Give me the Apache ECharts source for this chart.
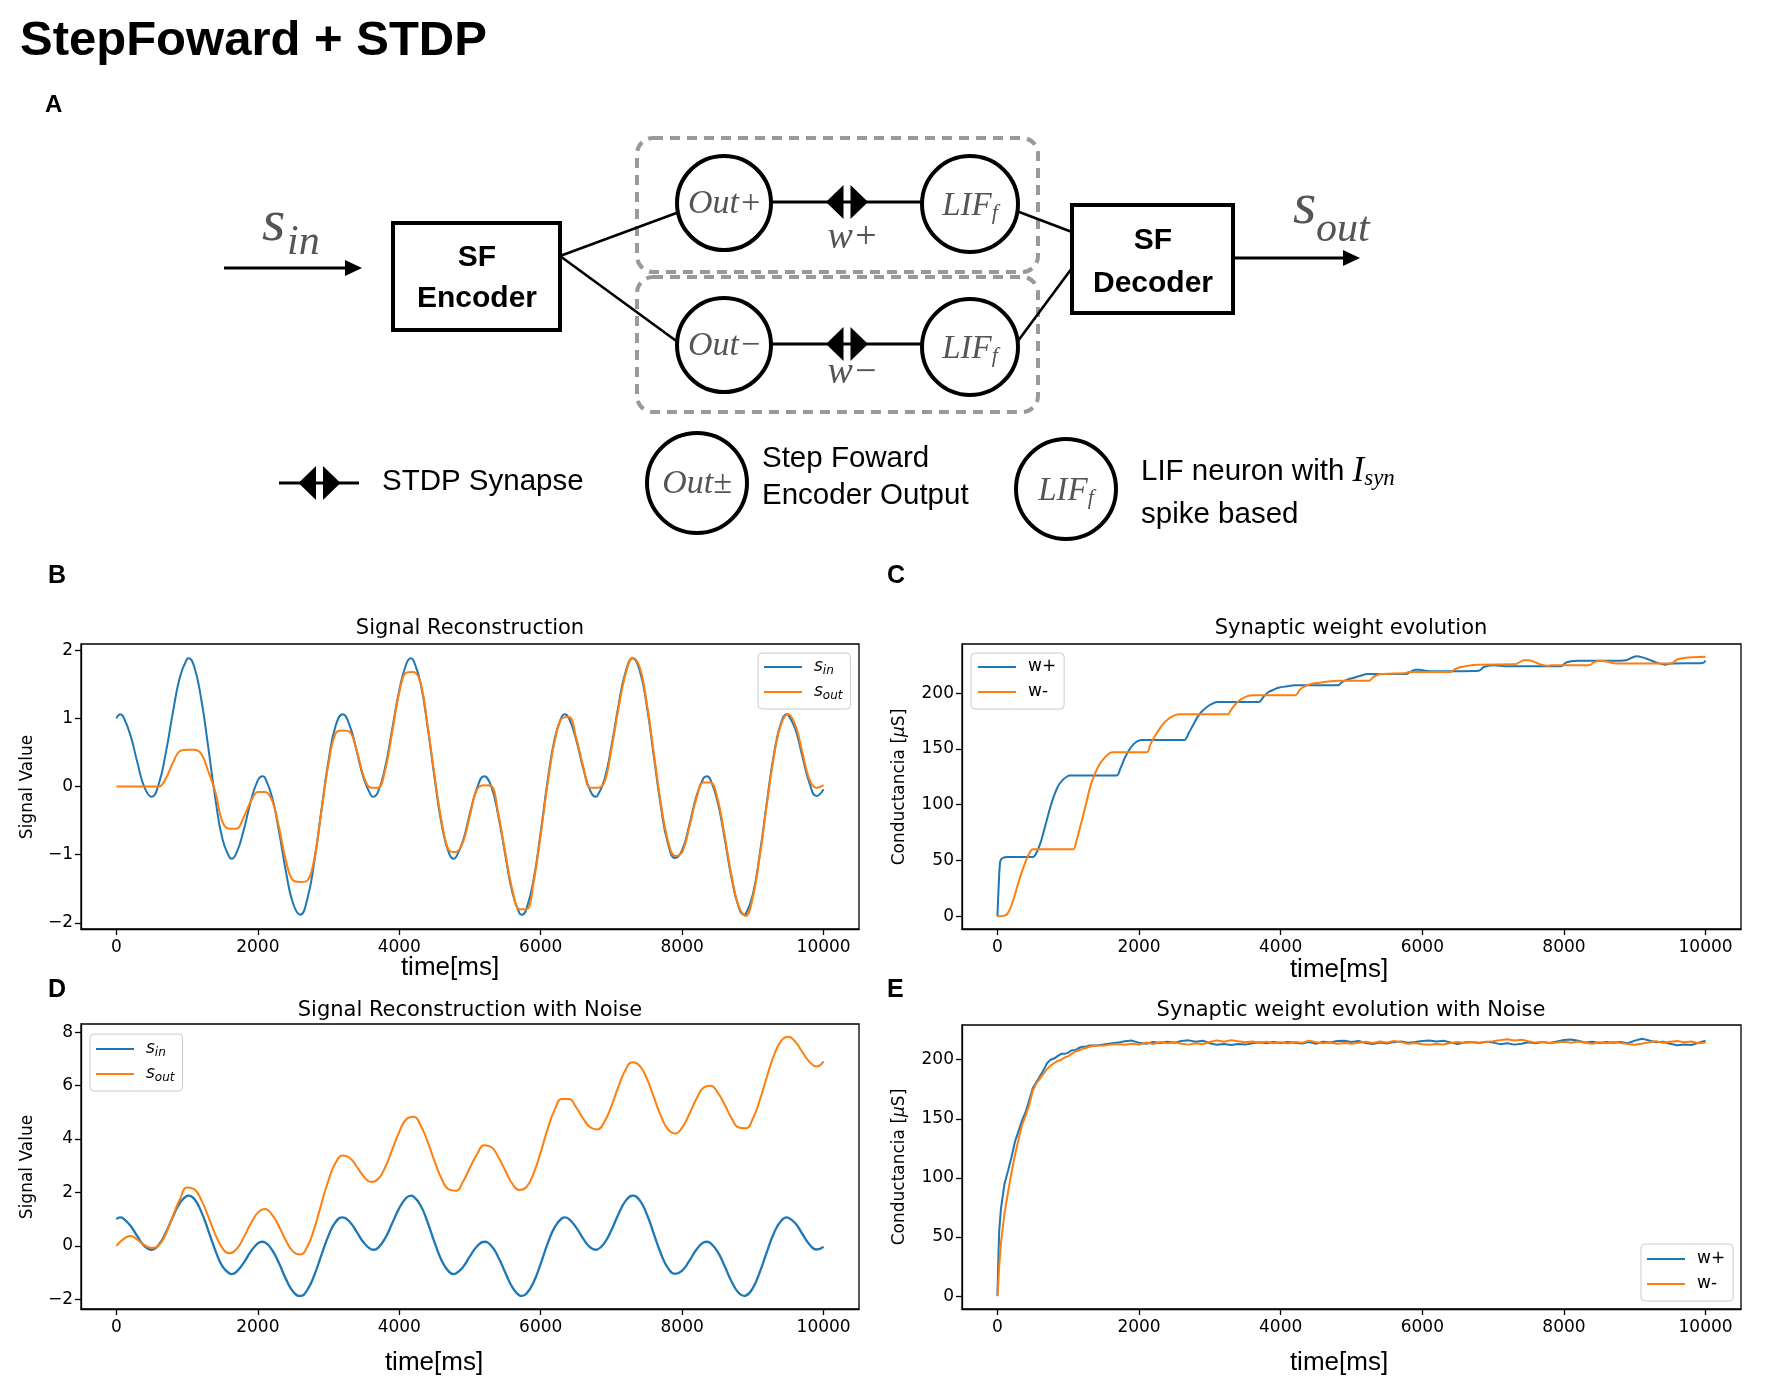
<!DOCTYPE html>
<html><head><meta charset="utf-8">
<script src="https://cdn.jsdelivr.net/npm/echarts@6/dist/echarts.min.js"></script>
<style>html,body{margin:0;padding:0;background:#fff}#c{width:1772px;height:1380px}</style>
</head><body><div id="c"></div>
<script>
// ---------- DATA ----------
const timeGrid = []; for (let t = 0; t <= 10000; t += 100) timeGrid.push(t); // ms
const xTicks = [0, 2000, 4000, 6000, 8000, 10000];
const yTicksB = [-2, -1, 0, 1, 2];
const yTicksC = [0, 50, 100, 150, 200];
const yTicksD = [-2, 0, 2, 4, 6, 8];
const yTicksE = [0, 50, 100, 150, 200];

// Panel B / D : input signal (same in both panels), sampled every 100 ms
const sIn = [1.00,1.02,0.75,0.34,-0.02,-0.15,0.04,0.50,1.09,1.61,
  1.87,1.76,1.28,0.57,-0.18,-0.77,-1.04,-0.97,-0.64,-0.22,
  0.09,0.13,-0.15,-0.66,-1.26,-1.72,-1.88,-1.65,-1.09,-0.34,
  0.38,0.89,1.06,0.89,0.51,0.11,-0.13,-0.08,0.28,0.84,
  1.41,1.80,1.85,1.52,0.88,0.12,-0.56,-0.97,-1.04,-0.80,
  -0.39,-0.02,0.15,0.00,-0.43,-1.01,-1.56,-1.86,-1.79,-1.36,
  -0.67,0.10,0.71,1.03,1.00,0.69,0.27,-0.06,-0.14,0.10,
  0.59,1.19,1.68,1.88,1.70,1.18,0.44,-0.30,-0.84,-1.05,
  -0.93,-0.57,-0.15,0.12,0.10,-0.22,-0.76,-1.35,-1.77,-1.87,
  -1.58,-0.97,-0.21,0.49,0.94,1.05,0.84,0.44,0.05,-0.14,
  -0.04];
// extra samples at the peaks / troughs of the input signal [ms, value]
const sInExtrema = [[56,1.06],[1022,1.88],[1627,-1.06],[2066,0.15],[3635,-0.15],[4164,1.88],[4769,-1.06],
  [5735,-1.88],[6339,1.06],[6776,-0.15],[8349,0.15],[8876,-1.88],[9481,1.06]];
// Panel B : reconstructed signal
const sOutB = [0,0,0,0,0,0,0,0.12,0.35,0.52,
  0.54,0.54,0.48,0.22,-0.08,-0.52,-0.62,-0.62,-0.45,-0.22,
  -0.08,-0.08,-0.2,-0.6,-1.1,-1.38,-1.4,-1.38,-1.05,-0.36,
  0.34,0.78,0.82,0.8,0.52,0.14,-0.02,-0.02,0.24,0.8,
  1.38,1.67,1.68,1.52,0.9,0.15,-0.52,-0.93,-0.96,-0.82,
  -0.42,-0.04,0.02,0.01,-0.4,-0.98,-1.52,-1.8,-1.8,-1.4,
  -0.7,0.06,0.68,1.0,1.02,0.72,0.3,-0.02,-0.02,0.06,
  0.55,1.15,1.65,1.89,1.75,1.22,0.48,-0.26,-0.8,-1.02,
  -0.96,-0.6,-0.18,0.06,0.06,-0.18,-0.72,-1.32,-1.76,-1.9,
  -1.62,-1.0,-0.24,0.46,0.92,1.06,0.9,0.5,0.1,-0.02,
  0.02];
// Panel D : reconstructed signal with noise
const sOutD = [0.00,0.25,0.37,0.22,0.02,-0.08,0.02,0.45,1.12,1.75,
  2.18,2.12,1.72,1.09,0.42,-0.09,-0.28,-0.12,0.31,0.83,
  1.24,1.38,1.17,0.72,0.18,-0.22,-0.33,-0.03,0.66,1.58,
  2.46,3.11,3.38,3.29,2.96,2.59,2.39,2.50,2.94,3.60,
  4.27,4.74,4.83,4.52,3.90,3.16,2.50,2.11,2.06,2.40,
  2.93,3.43,3.77,3.70,3.33,2.81,2.32,2.09,2.21,2.72,
  3.51,4.40,5.11,5.50,5.50,5.19,4.77,4.44,4.36,4.65,
  5.24,5.97,6.60,6.88,6.74,6.26,5.56,4.86,4.36,4.21,
  4.43,4.93,5.50,5.92,6.00,5.75,5.29,4.77,4.43,4.40,
  4.77,5.48,6.35,7.15,7.68,7.83,7.64,7.26,6.89,6.72,
  6.91];
// Panel C : [time ms, conductance µS]
const wPlusC = [[0,0],[20,30],[40,49],[70,52],[150,53],[500,53],[560,58],[620,68],[680,82],[740,96],[800,108],
  [860,117],[920,122],[980,125],[1020,126],[1680,126],[1740,133],[1800,142],[1860,149],[1920,154],[1980,157],
  [2050,158],[2640,158],[2700,164],[2760,171],[2820,178],[2880,183],[2950,187],[3020,190],[3100,192],[3690,192],
  [3760,197],[3830,201],[3900,203],[3980,205],[4080,206],[4200,207],[4810,207],[4870,210],[4940,212],[5050,214],
  [5150,216],[5220,217],[5770,217],[5830,219],[5900,221],[5960,221],[6040,220],[6160,219.5],[6800,220],[6860,223],
  [6930,224.5],[7010,225],[7200,224],[7960,224],[8020,227],[8100,228.5],[8200,229],[8650,229],[8880,229.5],
  [8950,231.5],[9030,233],[9110,232],[9200,230],[9300,227.5],[9430,225.5],[9500,226.5],[9960,227],[10000,229]];
const wMinusC = [[0,0],[100,0.5],[150,3],[200,10],[260,22],[320,35],[380,46],[440,55],[500,60],[1070,60],
  [1110,66],[1160,78],[1210,90],[1260,103],[1320,118],[1380,128],[1440,136],[1500,141],[1560,145],[1620,147],
  [2110,147],[2160,154],[2220,161],[2280,167],[2350,173],[2420,177],[2500,180],[2580,181],[3250,181],[3300,185],
  [3360,190],[3430,194],[3520,197],[3610,198],[4210,198],[4270,203],[4340,206],[4420,208],[4500,209],[4800,211],
  [5250,211],[5300,214],[5360,216],[5420,217],[5770,218],[5800,219],[6400,219],[6450,221],[6520,223],[6600,224],
  [6770,225.5],[7320,226],[7380,228],[7440,229.5],[7500,229.5],[7580,228],[7680,225.5],[7760,224.5],[7840,225],
  [8360,225],[8420,227.5],[8500,229],[8580,228.5],[8680,227],[8800,226.5],[9520,226.5],[9560,228.5],[9620,230.5],
  [9700,231.5],[10000,232.5]];
// Panel E : rise phase [time ms, µS] then plateau sampled every 100 ms from 1500 ms
const wPlusERise = [[0,0],[10,25],[25,55],[50,74],[100,95],[150,106],[200,118],[250,131],[300,140],[350,149],
  [400,156],[450,166],[500,176],[550,181],[600,186],[650,191],[700,197],[750,200],[800,201],[850,203],[900,205],
  [950,205],[1000,206],[1050,208],[1100,208],[1150,210],[1200,211],[1250,211],[1300,212],[1400,212]];
const wMinusERise = [[0,0],[10,8],[25,25],[50,45],[100,70],[150,88],[200,105],[250,120],[300,133],[350,145],
  [400,153],[450,162],[500,174],[550,180],[600,184],[650,188],[700,192],[750,195],[800,197],[850,199],[900,200],
  [950,202],[1000,203],[1050,205],[1100,207],[1150,208],[1200,209],[1250,210],[1300,211],[1400,212]];
const plateauStart = 1500;
const wPlusEPlateau = [213.0,213.8,214.5,215.6,216.2,214.3,213.6,215.0,214.1,215.2,
  214.4,215.8,216.4,215.3,216.1,214.0,212.6,213.4,212.4,213.3,
  212.8,214.0,214.8,213.9,215.1,214.2,215.0,214.4,213.7,214.9,
  213.5,215.3,214.6,215.8,216.0,215.1,215.9,214.2,213.3,214.6,
  213.8,214.9,215.5,214.3,215.0,215.9,216.3,215.4,216.1,214.6,
  213.4,214.7,215.0,214.2,215.3,214.5,213.2,213.9,212.8,213.5,
  214.8,213.9,215.0,214.1,215.4,216.8,217.2,216.0,214.6,215.3,
  214.2,215.0,214.3,215.1,214.0,216.2,217.8,216.4,214.8,215.2,
  213.6,212.3,212.8,212.5,214.4,216.0];
const wMinusEPlateau = [212.0,212.8,213.4,212.6,213.5,212.8,214.6,213.4,215.0,213.9,
  214.8,213.5,212.8,214.0,213.2,215.0,216.4,215.3,216.6,215.6,
  214.8,215.5,214.3,215.2,214.0,214.9,213.8,215.0,214.3,216.2,
  214.8,213.9,214.5,213.6,214.2,213.5,214.4,215.2,214.1,215.4,
  214.6,215.8,214.9,213.6,214.2,213.1,212.6,213.4,212.9,214.1,
  215.0,214.2,215.1,214.3,215.0,215.6,216.6,217.3,216.2,217.0,
  215.6,214.5,215.2,213.9,214.6,215.2,214.4,215.5,214.3,213.6,
  214.8,213.9,215.0,214.1,213.4,212.6,213.5,214.8,215.6,214.4,
  215.3,215.9,214.8,215.4,213.9,214.6];

// ---------- BUILD ----------
const zipT = vals => vals.map((v, i) => [timeGrid[i], v]);
const withPlateau = (rise, plat) => rise.concat(plat.map((v, i) => [plateauStart + 100 * i, v]));
const sInPts = zipT(sIn).concat(sInExtrema).sort((a, b) => a[0] - b[0]);
const BLUE = '#1f77b4', ORANGE = '#ff7f0e';
const TICKFONT = 'DejaVu Sans';
const fmtMinus = v => (v < 0 ? '\u2212' + (-v) : String(v));

const grids = [
  {left: 81, top: 644, width: 778, height: 285},
  {left: 962, top: 644, width: 779, height: 285},
  {left: 81, top: 1024, width: 778, height: 285},
  {left: 962, top: 1025, width: 779, height: 284}
].map(g => Object.assign(g, {show: true, borderColor: '#000', borderWidth: 1.3, backgroundColor: 'transparent'}));

function axisCommon(ticks) {
  return {
    axisLine: {show: true, onZero: false, lineStyle: {color: '#000', width: 1.3}},
    axisTick: {show: true, inside: false, length: 6, customValues: ticks, lineStyle: {color: '#000', width: 1.3}},
    axisLabel: {customValues: ticks, fontSize: 17, fontFamily: TICKFONT, color: '#000', formatter: fmtMinus},
    splitLine: {show: false}
  };
}
function xAx(gi) {
  const a = axisCommon(xTicks);
  a.axisLabel.margin = 10;
  return Object.assign({type: 'value', gridIndex: gi, min: -500, max: 10500}, a);
}
function yAx(gi, min, max, ticks) {
  const a = axisCommon(ticks);
  a.axisLabel.margin = 8;
  return Object.assign({type: 'value', gridIndex: gi, min, max}, a);
}

const legendRich = {
  sp: {width: 7, fontSize: 17, lineHeight: 20},
  i: {fontStyle: 'italic', fontSize: 17, fontFamily: TICKFONT, color: '#000', lineHeight: 20},
  sb: {fontStyle: 'italic', fontSize: 12, fontFamily: TICKFONT, color: '#000', lineHeight: 10, verticalAlign: 'bottom'},
  n: {fontSize: 17, fontFamily: TICKFONT, color: '#000', lineHeight: 20}
};
const legendLabels = {s_in: '{sp| }{i|s}{sb|in}', s_out: '{sp| }{i|s}{sb|out}', 'w+': '{sp| }{n|w+}', 'w-': '{sp| }{n|w-}'};
function leg(names, left, top, padding) {
  return {
    data: names, orient: 'vertical', left, top, padding,
    itemWidth: 38, itemHeight: 2, itemGap: 5, icon: 'rect', selectedMode: false,
    borderColor: '#cccccc', borderWidth: 1, borderRadius: 4, backgroundColor: 'rgba(255,255,255,0.85)',
    formatter: n => legendLabels[n],
    textStyle: {fontFamily: TICKFONT, fontSize: 17, color: '#000', lineHeight: 20, rich: legendRich}
  };
}

function lineSeries(name, data, color, gi, width, smooth) {
  return {type: 'line', name, data, xAxisIndex: gi, yAxisIndex: gi, showSymbol: false, symbol: 'none',
    smooth: smooth, color, lineStyle: {color, width}, animation: false, silent: true};
}

// ---------- DIAGRAM (panel A) & TEXT ----------
const G = [];
const SANS = 'Liberation Sans', SERIF = 'Liberation Serif', MATH = '#555';
function ln(x1, y1, x2, y2, w) { G.push({type: 'line', z: 1, shape: {x1, y1, x2, y2}, style: {stroke: '#000', lineWidth: w || 3}}); }
function poly(points, z) { G.push({type: 'polygon', z: z || 3, shape: {points}, style: {fill: '#000'}}); }
function circ(cx, cy, r) { G.push({type: 'circle', z: 2, shape: {cx, cy, r}, style: {fill: '#fff', stroke: '#000', lineWidth: 4}}); }
function box(x, y, w, h) { G.push({type: 'rect', z: 2, shape: {x, y, width: w, height: h}, style: {fill: '#fff', stroke: '#000', lineWidth: 4}}); }
function dashBox(x, y, w, h) { G.push({type: 'rect', z: 0, shape: {x, y, width: w, height: h, r: 16}, style: {fill: 'none', stroke: '#999', lineWidth: 4, lineDash: [10, 7]}}); }
function txt(x, y, text, o) {
  o = o || {};
  G.push({type: 'text', z: 4, x, y, rotation: o.rot || 0, style: {
    text, fontSize: o.size || 17, fontFamily: o.family || SANS, fontWeight: o.weight || 'normal',
    fontStyle: o.style || 'normal', fill: o.fill || '#000', align: o.align || 'left', verticalAlign: 'middle', rich: o.rich}});
}
function synapse(cx, cy) {
  poly([[cx - 21, cy], [cx - 3.5, cy - 17], [cx - 3.5, cy + 17]]);
  poly([[cx + 21, cy], [cx + 3.5, cy - 17], [cx + 3.5, cy + 17]]);
}
const lifRich = {m: {fontSize: 33, fontFamily: SERIF, fontStyle: 'italic', fill: MATH, lineHeight: 36},
  s: {fontSize: 22, fontFamily: SERIF, fontStyle: 'italic', fill: MATH, lineHeight: 14, verticalAlign: 'bottom'}};

// headings
txt(20, 41, 'StepFoward + STDP', {size: 49, weight: 'bold'});
txt(45, 105, 'A', {size: 24, weight: 'bold'});
txt(48, 576, 'B', {size: 25, weight: 'bold'});
txt(887, 576, 'C', {size: 25, weight: 'bold'});
txt(48, 990, 'D', {size: 25, weight: 'bold'});
txt(887, 990, 'E', {size: 25, weight: 'bold'});

// dashed groups
dashBox(637, 138, 401, 134);
dashBox(637, 277, 401, 135);
// arrows
ln(224, 268, 348, 268, 3); poly([[362, 268], [345, 260], [345, 276]]);
ln(1233, 258, 1346, 258, 3); poly([[1360, 258], [1343, 250], [1343, 266]]);
// connections
ln(560, 256, 690, 208, 2.6);
ln(560, 256, 690, 351, 2.6);
ln(1006, 207, 1072, 232, 2.6);
ln(1015, 345, 1072, 268, 2.6);
ln(724, 202, 970, 202, 3);
ln(724, 344, 970, 344, 3);
synapse(847, 202); synapse(847, 344);
// boxes & neurons
box(393, 223, 167, 107);
box(1072, 205, 161, 108);
circ(724, 203, 47); circ(970, 204, 48);
circ(724, 345, 47); circ(970, 347, 48);
txt(477, 258, 'SF', {size: 30, weight: 'bold', align: 'center'});
txt(477, 299, 'Encoder', {size: 30, weight: 'bold', align: 'center'});
txt(1153, 241, 'SF', {size: 30, weight: 'bold', align: 'center'});
txt(1153, 284, 'Decoder', {size: 30, weight: 'bold', align: 'center'});
txt(725, 204, 'Out+', {size: 34, family: SERIF, style: 'italic', fill: MATH, align: 'center'});
txt(725, 346, 'Out\u2212', {size: 34, family: SERIF, style: 'italic', fill: MATH, align: 'center'});
txt(970, 206, '{m|LIF}{s|f}', {align: 'center', rich: lifRich});
txt(970, 349, '{m|LIF}{s|f}', {align: 'center', rich: lifRich});
txt(853, 238, 'w+', {size: 38, family: SERIF, style: 'italic', fill: MATH, align: 'center'});
txt(853, 373, 'w\u2212', {size: 38, family: SERIF, style: 'italic', fill: MATH, align: 'center'});
txt(262, 224, 's', {size: 60, family: SERIF, style: 'italic', fill: MATH});
txt(287, 243, 'in', {size: 42, family: SERIF, style: 'italic', fill: MATH});
txt(1293, 207, 's', {size: 60, family: SERIF, style: 'italic', fill: MATH});
txt(1316, 230, 'out', {size: 42, family: SERIF, style: 'italic', fill: MATH});
// key row
ln(279, 483, 359, 483, 3); synapse(319.5, 483);
txt(382, 482, 'STDP Synapse', {size: 29.5});
circ(697, 483, 50);
txt(697, 484, 'Out\u00b1', {size: 34, family: SERIF, style: 'italic', fill: MATH, align: 'center'});
txt(762, 459, 'Step Foward', {size: 29.5});
txt(762, 496, 'Encoder Output', {size: 29.5});
circ(1066, 489, 50);
txt(1066, 491, '{m|LIF}{s|f}', {align: 'center', rich: lifRich});
txt(1141, 472, '{n|LIF neuron with }{I|I}{s|syn}', {rich: {
  n: {fontSize: 29.5, fontFamily: SANS, fill: '#000', lineHeight: 36},
  I: {fontSize: 35, fontFamily: SERIF, fontStyle: 'italic', fill: '#000', lineHeight: 36},
  s: {fontSize: 23, fontFamily: SERIF, fontStyle: 'italic', fill: '#000', lineHeight: 14, verticalAlign: 'bottom'}}});
txt(1141, 515, 'spike based', {size: 29.5});

// panel titles & axis names
const titleO = {size: 21, family: 'DejaVu Sans', align: 'center'};
txt(470, 629, 'Signal Reconstruction', titleO);
txt(1351, 629, 'Synaptic weight evolution', titleO);
txt(470, 1011, 'Signal Reconstruction with Noise', titleO);
txt(1351, 1011, 'Synaptic weight evolution with Noise', titleO);
const xlab = {size: 26, family: SANS, align: 'center'};
txt(450, 968, 'time[ms]', xlab);
txt(1339, 970, 'time[ms]', xlab);
txt(434, 1363, 'time[ms]', xlab);
txt(1339, 1363, 'time[ms]', xlab);
const ylab = {size: 17, family: 'DejaVu Sans', align: 'center', rot: Math.PI / 2};
txt(28, 787, 'Signal Value', ylab);
txt(28, 1167, 'Signal Value', ylab);
const condRich = {a: {fontSize: 17, fontFamily: 'DejaVu Sans', fill: '#000'}, m: {fontSize: 17, fontFamily: 'DejaVu Sans', fontStyle: 'italic', fill: '#000'}};
txt(900, 787, '{a|Conductancia [}{m|\u03bc}{a|S]}', Object.assign({}, ylab, {rich: condRich}));
txt(900, 1167, '{a|Conductancia [}{m|\u03bc}{a|S]}', Object.assign({}, ylab, {rich: condRich}));

// ---------- OPTION ----------
const option = {
  backgroundColor: '#fff',
  animation: false,
  grid: grids,
  xAxis: [xAx(0), xAx(1), xAx(2), xAx(3)],
  yAxis: [yAx(0, -2.09, 2.09, yTicksB), yAx(1, -11.5, 244, yTicksC), yAx(2, -2.37, 8.31, yTicksD), yAx(3, -10.9, 229.4, yTicksE)],
  legend: [
    leg(['s_in', 's_out'], 758, 653, [4, 8, 7, 6]),
    leg(['w+', 'w-'], 971, 653, [4, 8, 7, 7]),
    leg(['s_in', 's_out'], 90, 1034, [5, 8, 7, 6]),
    leg(['w+', 'w-'], 1641, 1244, [5, 8, 7, 6])
  ],
  series: [
    lineSeries('s_in', sInPts, BLUE, 0, 2, 0.5),
    lineSeries('s_out', zipT(sOutB), ORANGE, 0, 2, 0.4),
    lineSeries('w+', wPlusC, BLUE, 1, 2, 0.3),
    lineSeries('w-', wMinusC, ORANGE, 1, 2, 0.3),
    lineSeries('s_in', sInPts, BLUE, 2, 2.3, 0.5),
    lineSeries('s_out', zipT(sOutD), ORANGE, 2, 2, 0.5),
    lineSeries('w+', withPlateau(wPlusERise, wPlusEPlateau), BLUE, 3, 2, false),
    lineSeries('w-', withPlateau(wMinusERise, wMinusEPlateau), ORANGE, 3, 2, false)
  ],
  graphic: {elements: G}
};
const chart = echarts.init(document.getElementById('c'), null, {renderer: 'canvas'});
chart.setOption(option);
</script></body></html>
